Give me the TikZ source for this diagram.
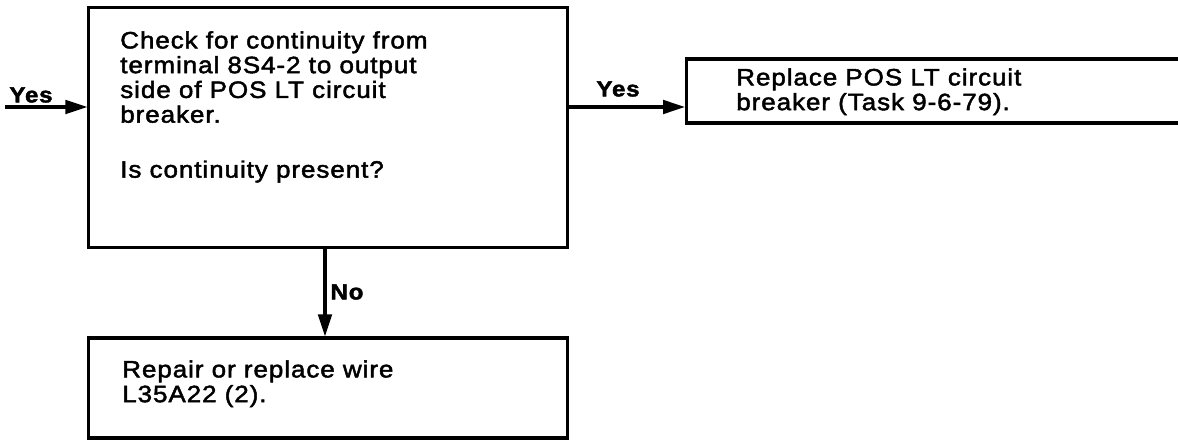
\documentclass[tikz,border=0pt]{standalone}
\usepackage{fontspec}
\setmainfont{Liberation Sans}[FakeStretch=1.1,LetterSpace=4,FakeBold=2]
\usetikzlibrary{arrows.meta}

\tikzset{
  box/.style={draw, line width=2.2pt, inner sep=0pt},
  txt/.style={align=left, inner sep=0pt, font=\fontsize{16.8}{17.6}\selectfont},
  lbl/.style={inner sep=0pt, font=\fontsize{15.5}{17}\selectfont\bfseries}
}

\begin{document}
\begin{tikzpicture}[x=0.025cm, y=-0.025cm, >={Triangle[length=0.55cm, width=0.34cm]}]

\useasboundingbox (0,0) rectangle (1178,440);
\clip (0,0) rectangle (1178,440);

% Boxes (placed manually, pixel grid of the sheet)
\node[box, minimum width=11.95cm, minimum height=5.98cm] (check) at (328,127.5) {};
\node[box, anchor=west, minimum width=13.5cm, minimum height=1.6cm] (repl) at (685,91) {};
\node[box, minimum width=11.95cm, minimum height=2.5cm] (fix) at (328,388) {};

% Texts
\node[txt, anchor=north west] (checktxt) at (120,31) {Check for continuity from\\
terminal 8S4-2 to output\\
side of POS LT circuit\\
breaker.\\[21.5pt]
Is continuity present?};
\node[txt, anchor=north west] (repltxt) at (736,68) {Replace POS LT circuit\\
breaker (Task 9-6-79).};
\node[txt, anchor=north west] (fixtxt) at (122,360) {Repair or replace wire\\
L35A22 (2).};

% Incoming line
\coordinate (in) at (5,107);

% Arrows
\draw[line width=2.2pt, ->] (in) -- (in -| check.west);
\draw[line width=2.2pt, ->] (check.east |- in) -- (in -| repl.west);
\draw[line width=2.2pt, ->] ([xshift=-0.075cm]check.south) -- ([xshift=-0.075cm]fix.north);

% Labels
\node[lbl] (yesin) at (31,95) {Yes};
\node[lbl] (yesout) at (618,89) {Yes};
\node[lbl] (no) at (347,292) {No};

\end{tikzpicture}
\end{document}
